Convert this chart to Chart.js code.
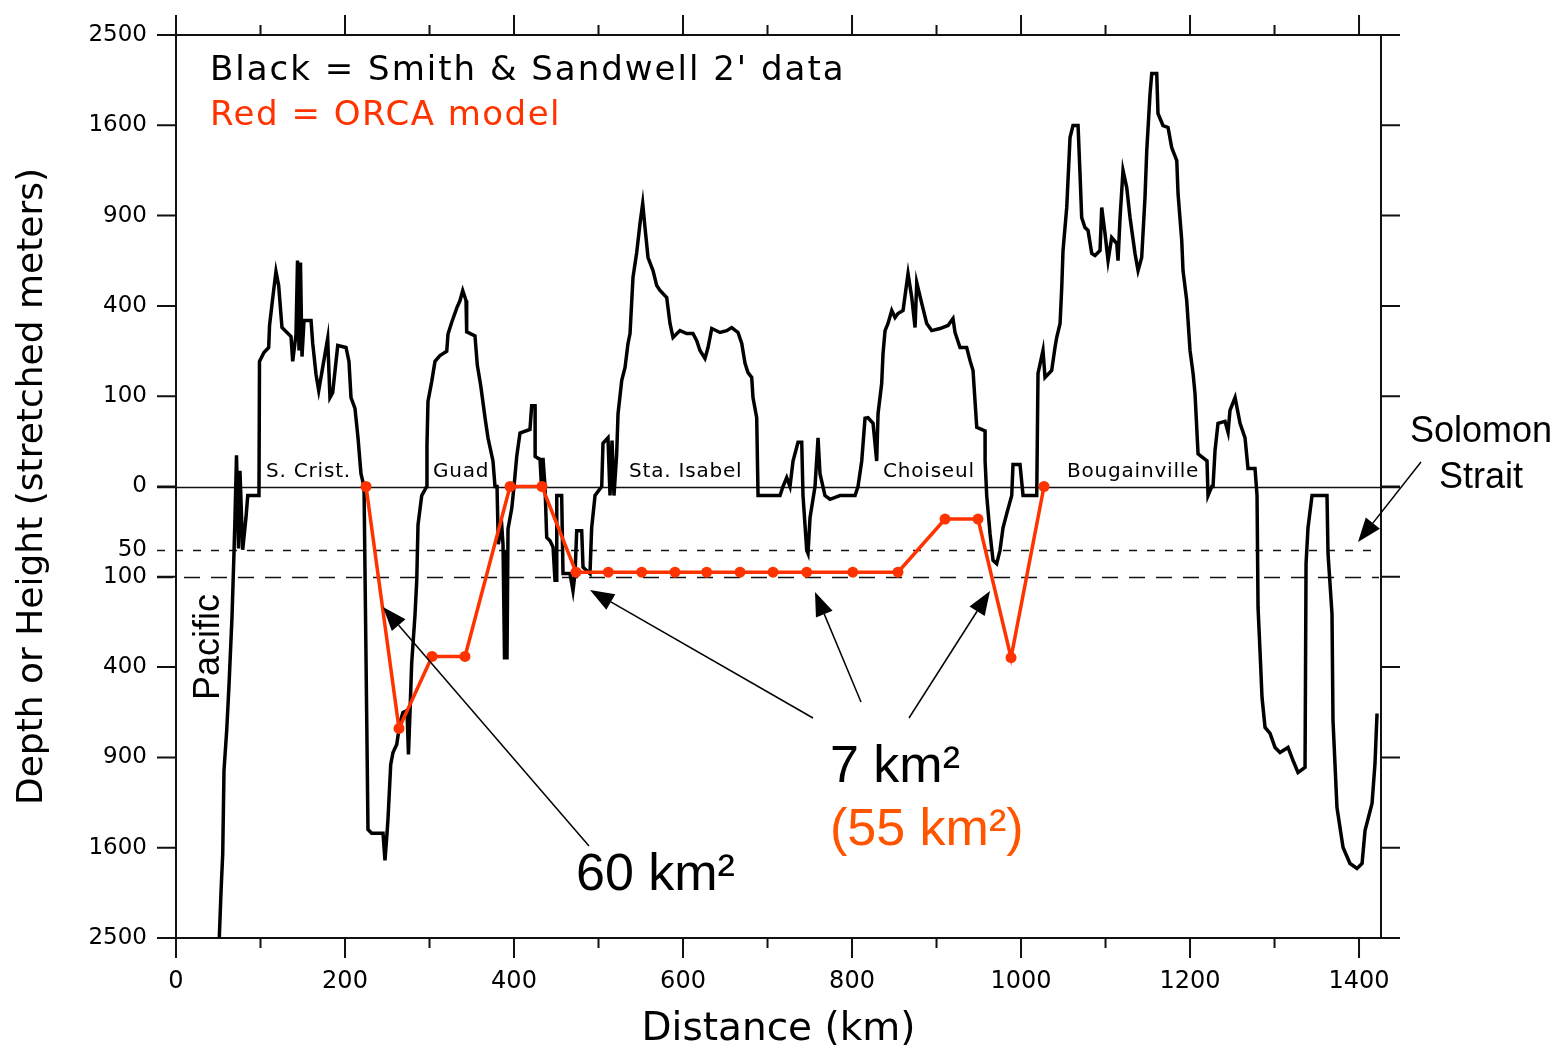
<!DOCTYPE html>
<html>
<head>
<meta charset="utf-8">
<script src="https://cdn.jsdelivr.net/npm/chart.js@4.4.1/dist/chart.umd.min.js"></script>
<style>
html,body{margin:0;padding:0;background:#fff;}
#wrap{width:1560px;height:1054px;position:relative;}
canvas{display:block;}
</style>
</head>
<body>
<div id="wrap"><canvas id="c" width="1560" height="1054"></canvas></div>
<script>
// ---- Smith & Sandwell 2' profile: distance (km) and elevation (m, + height / - depth)
const distanceKm = [
  50.9,53.3,55.3,56.8,60.0,62.7,66.3,68.6,69.8,71.6,74.0,75.7,78.9,82.8,84.9,98.2,98.8,104.1,109.7,110.7,
  114.4,118.3,121.5,125.4,136.1,138.1,142.0,143.8,145.6,147.3,149.1,151.5,159.8,161.8,165.7,168.9,173.6,179.5,182.2,185.4,
  191.4,201.2,204.7,207.1,211.8,215.4,218.9,222.5,225.7,227.2,231.6,245.0,247.3,249.7,250.9,254.1,256.8,261.2,265.1,268.6,
  273.4,275.1,276.9,278.9,282.8,284.9,286.4,290.8,296.7,297.0,298.2,302.6,306.5,312.4,320.4,321.9,326.3,332.2,336.1,339.3,
  343.2,344.0,353.8,356.6,360.6,365.7,369.2,375.1,377.5,379.9,381.4,385.4,387.0,388.8,390.5,391.7,392.9,397.3,400.0,403.2,
  407.1,418.9,420.9,424.9,425.0,430.8,432.5,434.3,436.7,438.7,442.6,446.2,448.5,450.5,450.6,456.4,458.0,466.3,469.8,472.2,
  474.2,480.1,481.7,489.9,491.9,495.9,503.8,505.3,511.2,513.6,516.0,518.3,521.5,523.1,527.5,531.4,534.9,537.3,540.8,545.2,
  549.1,552.3,555.0,558.6,564.5,568.9,572.8,580.7,584.6,588.2,596.4,604.4,611.8,616.2,620.1,626.0,629.6,634.0,643.8,651.7,
  657.6,665.1,669.5,673.4,676.9,681.3,682.8,687.2,688.8,714.8,718.3,722.7,726.6,730.2,736.1,740.5,742.0,746.4,747.9,750.3,
  756.2,759.8,762.1,768.0,773.9,785.8,799.6,803.6,807.1,811.5,815.4,818.9,824.9,829.2,830.8,835.1,836.7,839.1,842.6,847.0,
  850.9,854.4,860.4,864.7,866.3,870.7,874.6,876.6,882.5,888.4,894.3,904.1,913.6,919.5,921.9,927.8,935.7,939.6,943.2,947.6,
  957.4,957.5,959.4,963.3,966.9,971.2,975.1,978.7,983.1,989.0,990.5,998.8,1002.4,1018.6,1020.1,1026.0,1028.4,1036.3,1040.2,1042.2,
  1046.2,1048.2,1049.7,1054.1,1058.0,1061.5,1067.5,1069.8,1071.8,1075.7,1079.3,1083.7,1087.6,1093.5,1095.5,1099.4,1103.0,1107.3,1113.3,1114.8,
  1117.2,1120.7,1125.1,1129.0,1134.9,1138.5,1142.8,1146.7,1148.8,1152.7,1154.7,1160.6,1162.1,1168.0,1174.0,1178.3,1184.3,1185.8,1190.2,1191.7,
  1196.1,1200.0,1203.6,1205.9,1209.5,1220.1,1221.3,1225.7,1227.2,1229.6,1233.1,1241.4,1245.0,1247.3,1253.3,1259.2,1265.1,1268.6,1276.9,1279.3,
  1280.5,1282.8,1285.2,1288.8,1294.7,1300.6,1306.5,1316.0,1321.9,1327.8,1336.1,1337.3,1339.6,1344.4,1362.1,1363.3,1368.0,1369.2,1373.9,1381.1,
  1389.3,1397.6,1403.6,1407.1,1415.4,1418.9,1421.3
];
const elevationM = [
  -2580,-2012,-1652,-989,-730,-486,-207,-55,-12,12,-47,3,-49,-12,-1,-1,192,220,237,318,
  433,567,495,310,276,192,283,626,227,615,207,338,338,251,154,113,174,269,97,108,
  244,237,192,97,75,29,2,0,-660,-1443,-1475,-1475,-1715,-1475,-1352,-948,-868,-816,-683,-626,
  -615,-881,-626,-384,-204,-108,-18,-1,0,21,89,135,192,210,224,285,331,390,424,471,
  424,293,278,180,125,58,29,8,0,0,-41,-18,-41,-367,-50,-367,-22,-6,0,11,
  35,40,80,80,11,9,0,10,0,-32,-36,-45,-108,-108,-1,-1,-93,-93,-133,-93,
  -24,-24,-80,-93,-21,-1,0,23,29,-1,26,-1,13,65,138,174,251,287,536,672,
  848,982,823,643,572,495,471,438,326,272,298,287,287,261,227,201,237,306,291,298,
  310,291,251,186,159,146,97,58,-1,-1,0,1,0,8,24,24,-1,-50,-55,-12,
  0,29,2,-1,-2,-1,-1,-1,0,8,57,58,49,8,65,130,217,298,326,380,
  350,367,380,505,556,438,310,510,411,326,298,306,318,346,291,237,237,195,165,43,
  38,8,-1,-27,-67,-73,-50,-21,-9,-1,6,6,-1,-1,157,227,146,165,237,272,
  326,486,683,955,1494,1598,1598,1201,887,823,804,666,654,683,955,785,626,760,724,626,
  887,1225,1096,887,666,572,643,1024,1384,1894,2092,2092,1706,1598,1581,1409,1303,1053,742,572,
  424,227,157,106,13,8,-1,0,0,16,49,52,36,71,97,49,29,4,4,-1,
  -180,-330,-546,-712,-748,-835,-868,-835,-921,-1003,-968,-73,-21,-1,-1,-55,-198,-672,-1264,-1598,
  -1743,-1790,-1743,-1451,-1232,-941,-632
];
// ---- ORCA model sill profile
const orcaDistanceKm = [224.9,263.9,303.0,342.0,395.3,433.1,473.4,511.6,551.1,590.5,628.0,667.5,706.5,746.4,800.9,854.4,910.1,949.1,988.2,1027.2];
const orcaElevationM = [0,-718,-354,-354,0,0,-90,-90,-90,-90,-90,-90,-90,-90,-90,-90,-13,-13,-359,0];
// ---- axes
const xTickKm = [0,200,400,600,800,1000,1200,1400];
const xTickLabels = ['0','200','400','600','800','1000','1200','1400'];
const xMinorKm = [0,100,200,300,400,500,600,700,800,900,1000,1100,1200,1300,1400];
const yTickMeters = [2500,1600,900,400,100,0,-50,-100,-400,-900,-1600,-2500];
const yTickLabels = ['2500','1600','900','400','100','0','50','100','400','900','1600','2500'];
const refDepthsM = [-50,-100];
const islandNames = ['S. Crist.','Guad','Sta. Isabel','Choiseul','Bougainville'];

function stretch(m){ return Math.sign(m) * Math.sqrt(Math.abs(m)); }

const profilePts = distanceKm.map((d,i)=>({x:d, y:stretch(elevationM[i])}));
const orcaPts = orcaDistanceKm.map((d,i)=>({x:d, y:stretch(orcaElevationM[i])}));

function drawArrow(ctx, x1, y1, x2, y2){
  const ang = Math.atan2(y2-y1, x2-x1);
  const L = 24, W = 9;
  const bx = x2 - L*Math.cos(ang), by = y2 - L*Math.sin(ang);
  ctx.beginPath(); ctx.moveTo(x1,y1); ctx.lineTo(bx,by); ctx.stroke();
  ctx.beginPath();
  ctx.moveTo(x2,y2);
  ctx.lineTo(bx + W*Math.sin(ang), by - W*Math.cos(ang));
  ctx.lineTo(bx - W*Math.sin(ang), by + W*Math.cos(ang));
  ctx.closePath(); ctx.fill();
}

const framePlugin = {
  id: 'frame',
  beforeDatasetsDraw(chart){
    const {ctx, chartArea:a, scales:{x, y}} = chart;
    ctx.save();
    ctx.strokeStyle = '#111';
    // zero line
    ctx.lineWidth = 1.6;
    const y0 = Math.round(y.getPixelForValue(0)) + 0.5;
    ctx.beginPath(); ctx.moveTo(a.left-19, y0); ctx.lineTo(a.right+19, y0); ctx.stroke();
    // dashed reference depths
    const dashes = [[8,10],[16,11]];
    refDepthsM.forEach((m,i)=>{
      const py = Math.round(y.getPixelForValue(stretch(m))) + 0.5;
      ctx.setLineDash(dashes[i]);
      ctx.beginPath(); ctx.moveTo(a.left-19, py); ctx.lineTo(a.right-2, py); ctx.stroke();
    });
    ctx.setLineDash([]);
    // frame
    ctx.lineWidth = 2;
    ctx.strokeRect(a.left, a.top, a.right-a.left, a.bottom-a.top);
    // y ticks
    yTickMeters.forEach(m=>{
      if (m === -50) return;
      const py = y.getPixelForValue(stretch(m));
      ctx.beginPath();
      ctx.moveTo(a.left-19, py); ctx.lineTo(a.left, py);
      ctx.moveTo(a.right, py); ctx.lineTo(a.right+19, py);
      ctx.stroke();
    });
    // x ticks
    xMinorKm.forEach(k=>{
      const px = x.getPixelForValue(k);
      const len = (k % 200 === 0) ? 20 : 10;
      ctx.beginPath();
      ctx.moveTo(px, a.bottom); ctx.lineTo(px, a.bottom+len);
      ctx.moveTo(px, a.top); ctx.lineTo(px, a.top-len);
      ctx.stroke();
    });
    ctx.restore();
  },
  afterDraw(chart){
    const {ctx} = chart;
    ctx.save();
    // legend text
    ctx.font = '34px "DejaVu Sans"';
    ctx.textAlign = 'left';
    ctx.textBaseline = 'alphabetic';
    ctx.letterSpacing = '2px';
    ctx.fillStyle = '#000';
    ctx.fillText("Black = Smith & Sandwell 2' data", 210, 80);
    ctx.letterSpacing = '1.5px';
    ctx.fillStyle = '#ff3300';
    ctx.fillText('Red = ORCA model', 210, 125);
    // island names
    ctx.font = '20px "DejaVu Sans"';
    ctx.letterSpacing = '0.8px';
    ctx.fillStyle = '#000';
    const islandX = [266, 433, 629, 883, 1067];
    islandNames.forEach((n,i)=> ctx.fillText(n, islandX[i], 477));
    ctx.letterSpacing = '0px';
    // annotations
    ctx.font = '36px "Liberation Sans", Arial, sans-serif';
    ctx.textAlign = 'center';
    ctx.fillText('Solomon', 1481, 442);
    ctx.fillText('Strait', 1481, 488);
    ctx.save();
    ctx.translate(219, 647);
    ctx.rotate(-Math.PI/2);
    ctx.fillText('Pacific', 0, 0);
    ctx.restore();
    ctx.textAlign = 'left';
    ctx.font = '52px "Liberation Sans", Arial, sans-serif';
    ctx.fillStyle = '#000';
    ctx.fillText('7 km\u00B2', 830, 782);
    ctx.fillText('60 km\u00B2', 576, 890);
    ctx.fillStyle = '#ff5500';
    ctx.fillText('(55 km\u00B2)', 830, 845);
    // arrows
    ctx.strokeStyle = '#000';
    ctx.fillStyle = '#000';
    ctx.lineWidth = 1.5;
    drawArrow(ctx, 589, 846, 383, 607);
    drawArrow(ctx, 813, 718, 590, 590);
    drawArrow(ctx, 861, 702, 815, 592);
    drawArrow(ctx, 909, 718, 990, 591);
    drawArrow(ctx, 1421, 462, 1358, 542);
    ctx.restore();
  }
};

new Chart(document.getElementById('c'), {
  type: 'line',
  data: {
    datasets: [
      {
        label: 'ORCA model',
        data: orcaPts,
        borderColor: '#ff3300',
        backgroundColor: '#ff3300',
        borderWidth: 3.5,
        pointRadius: 5.5,
        pointBorderWidth: 0,
        pointBackgroundColor: '#ff3300',
        tension: 0,
        order: 0
      },
      {
        label: "Smith & Sandwell 2' data",
        data: profilePts,
        borderColor: '#000',
        borderWidth: 3.5,
        pointRadius: 0,
        tension: 0,
        borderJoinStyle: 'miter',
        order: 1
      }
    ]
  },
  options: {
    responsive: false,
    devicePixelRatio: 1,
    animation: false,
    events: [],
    layout: { padding: { top: 35, right: 179, bottom: 0, left: 0 } },
    plugins: { legend: { display: false }, tooltip: { enabled: false } },
    scales: {
      x: {
        type: 'linear',
        position: 'bottom',
        min: 0,
        max: 1426,
        grid: { display: false, drawTicks: false },
        border: { display: false },
        afterBuildTicks: s => { s.ticks = xTickKm.map(v => ({ value: v })); },
        afterFit: s => { s.height = 116; s.paddingLeft = 0; s.paddingRight = 0; },
        ticks: {
          autoSkip: false,
          maxRotation: 0,
          padding: 29,
          color: '#000',
          font: { family: '"DejaVu Sans"', size: 24 },
          callback: (v, i) => xTickLabels[i]
        },
        title: {
          display: true,
          text: 'Distance (km)',
          color: '#000',
          font: { family: '"DejaVu Sans"', size: 39 },
          padding: { top: 0, bottom: 1 }
        }
      },
      y: {
        type: 'linear',
        position: 'left',
        min: -50,
        max: 50,
        grid: { display: false, drawTicks: false },
        border: { display: false },
        afterBuildTicks: s => { s.ticks = yTickMeters.map(m => ({ value: stretch(m) })); },
        afterFit: s => { s.width = 176; s.paddingTop = 0; s.paddingBottom = 0; },
        ticks: {
          autoSkip: false,
          padding: 29,
          color: '#000',
          font: { family: '"DejaVu Sans"', size: 23 },
          callback: (v, i) => yTickLabels[i]
        },
        title: {
          display: true,
          text: 'Depth or Height (stretched meters)',
          color: '#000',
          font: { family: '"DejaVu Sans"', size: 36 },
          padding: { top: 11, bottom: 0 }
        }
      }
    }
  },
  plugins: [framePlugin]
});
</script>
</body>
</html>
